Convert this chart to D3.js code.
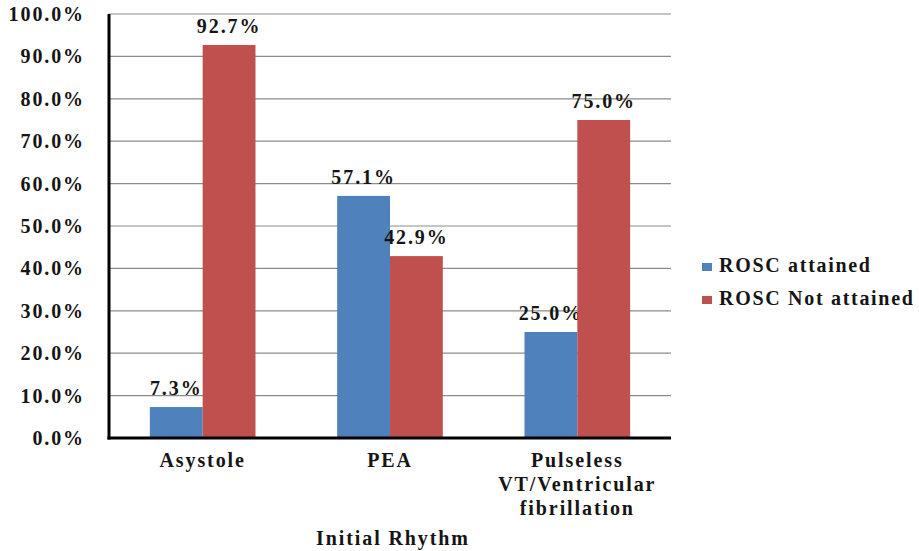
<!DOCTYPE html>
<html><head><meta charset="utf-8">
<script src="https://cdnjs.cloudflare.com/ajax/libs/d3/7.8.5/d3.min.js"></script>
<style>body{margin:0;background:#fff}svg{display:block}</style>
</head><body><svg id="c" width="919" height="551"></svg>
<script>
const categories = [["Asystole"], ["PEA"], ["Pulseless", "VT/Ventricular", "fibrillation"]];
const seriesNames = ["ROSC attained", "ROSC Not attained"];
const attained = [7.3, 57.1, 25.0];
const notAttained = [92.7, 42.9, 75.0];
const yTicks = [0, 10, 20, 30, 40, 50, 60, 70, 80, 90, 100];
const colors = ["#4F81BD", "#C0504D"];
const xTitle = "Initial Rhythm";

const svg = d3.select("#c");
function txt(sel) {
  return sel.attr("font-family", "Liberation Serif").attr("font-weight", "bold")
    .attr("font-size", 20).attr("letter-spacing", 1.9).attr("fill", "#151515");
}
const L = 109, R = 671, T = 14, B = 438;
const x = d3.scaleBand().domain(d3.range(categories.length)).range([L, R]).paddingInner(0.436).paddingOuter(0.218);
const xs = d3.scaleBand().domain([0, 1]).range([0, x.bandwidth()]);
const y = d3.scaleLinear().domain([0, 100]).range([B, T]);

svg.append("g").selectAll("line").data(yTicks.filter(d => d > 0)).join("line")
  .attr("x1", L).attr("x2", R).attr("y1", d => y(d)).attr("y2", d => y(d))
  .attr("stroke", "#8c8c8c").attr("stroke-width", 1.2);

txt(svg.append("g").selectAll("text").data(yTicks).join("text"))
  .attr("x", 85).attr("y", d => y(d) + 7).attr("text-anchor", "end")
  .text(d => d.toFixed(1) + "%");

const series = [attained, notAttained];
series.forEach((vals, s) => {
  svg.append("g").selectAll("rect").data(vals).join("rect")
    .attr("x", (d, i) => x(i) + xs(s)).attr("width", xs.bandwidth())
    .attr("y", d => y(d)).attr("height", d => B - y(d)).attr("fill", colors[s]);
  txt(svg.append("g").selectAll("text").data(vals).join("text"))
    .attr("x", (d, i) => x(i) + xs(s) + xs.bandwidth() / 2)
    .attr("y", d => y(d) - 12).attr("text-anchor", "middle")
    .text(d => d.toFixed(1) + "%");
});

svg.append("line").attr("x1", L).attr("x2", L).attr("y1", T).attr("y2", B + 1.5).attr("stroke", "#000").attr("stroke-width", 3);
svg.append("line").attr("x1", L - 1.5).attr("x2", R).attr("y1", B).attr("y2", B).attr("stroke", "#000").attr("stroke-width", 3);

categories.forEach((lines, i) => {
  const t = txt(svg.append("text")).attr("text-anchor", "middle");
  lines.forEach((ln, k) => t.append("tspan").attr("x", x(i) + x.bandwidth() / 2).attr("y", 467 + k * 24).text(ln));
});

txt(svg.append("text")).attr("x", 393).attr("y", 545).attr("text-anchor", "middle").text(xTitle);

seriesNames.forEach((n, s) => {
  const yy = 272 + s * 33;
  svg.append("rect").attr("x", 702).attr("y", yy - 9).attr("width", 10).attr("height", 8).attr("fill", colors[s]);
  txt(svg.append("text")).attr("x", 719).attr("y", yy).attr("letter-spacing", 1.7).text(n);
});
</script></body></html>
